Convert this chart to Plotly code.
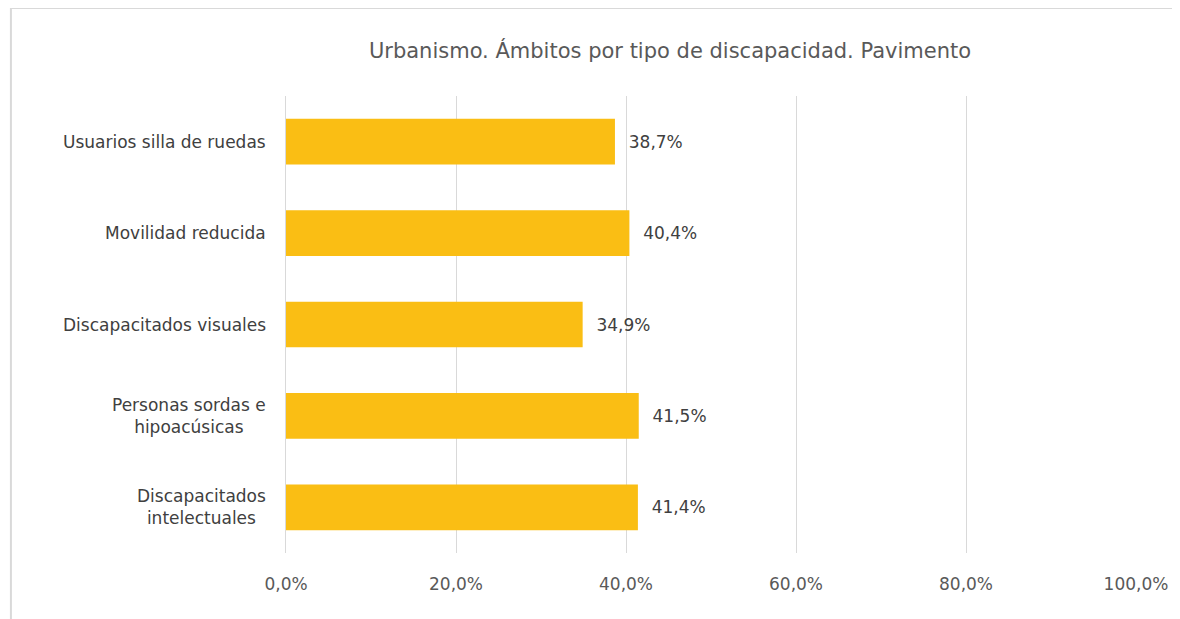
import plotly.graph_objects as go

categories = ["Usuarios silla de ruedas", "Movilidad reducida", "Discapacitados visuales",
              "Personas sordas e<br>hipoacúsicas", "Discapacitados<br>intelectuales"]
values = [38.7, 40.4, 34.9, 41.5, 41.4]
tick_vals = [0, 20, 40, 60, 80, 100]
tick_text = ["0,0%", "20,0%", "40,0%", "60,0%", "80,0%", "100,0%"]
labels = ["\u00a0\u00a0" + f"{v:.1f}%".replace(".", ",") for v in values]

FONT = "DejaVu Sans, sans-serif"
# page body adds 8px offset; figure sized to fill the rest of the window
W, H = 1172, 611
L, R, T, B = 278, 35, 88, 66

fig = go.Figure(go.Bar(
    x=values, y=categories, orientation="h",
    marker=dict(color="#FABE14", line=dict(width=0)),
    width=0.5,
    text=labels, textposition="outside",
    textfont=dict(family=FONT, size=17, color="#404040"),
    cliponaxis=False,
))

# category labels as centred multi-line annotations (Excel style)
for c in categories:
    fig.add_annotation(xref="paper", yref="y", x=0, y=c, text=c,
                       xanchor="right", yanchor="middle", align="center",
                       showarrow=False, xshift=-18,
                       font=dict(family=FONT, size=17, color="#404040"))

pw = W - L - R
ph = H - T - B
bx = -L / pw
by = 1 + T / ph
fig.update_layout(
    width=W, height=H,
    margin=dict(l=L, r=R, t=T, b=B),
    paper_bgcolor="white", plot_bgcolor="white",
    title=dict(text="Urbanismo. Ámbitos por tipo de discapacidad. Pavimento",
               x=662 / W, xanchor="center", y=1 - 43 / H, yanchor="middle",
               font=dict(family=FONT, size=21, color="#595959")),
    xaxis=dict(range=[0, 100], tickvals=tick_vals, ticktext=tick_text,
               showgrid=True, gridcolor="#D9D9D9", gridwidth=1,
               zeroline=False, showline=False, ticks="",
               tickfont=dict(family=FONT, size=17, color="#595959"),
               ticklabelstandoff=19),
    yaxis=dict(autorange="reversed", showgrid=False, zeroline=False,
               showline=True, linecolor="#D9D9D9", linewidth=1, ticks="",
               showticklabels=False),
    bargap=0.5,
    font=dict(family=FONT),
    shapes=[dict(type="path", xref="paper", yref="paper",
                 path=f"M {bx},{-(B + 10) / ph} L {bx},{by} L {1 + (R + 10) / pw},{by}",
                 line=dict(color="#D9D9D9", width=2),
                 layer="below")],
    showlegend=False,
)
fig.write_html("out.html")
